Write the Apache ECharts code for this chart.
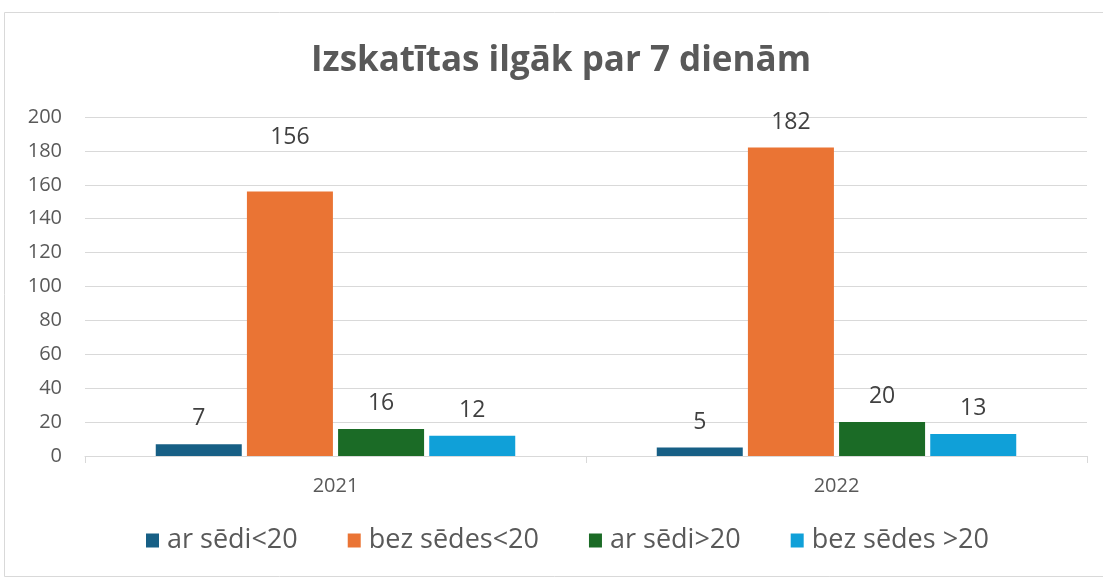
<!DOCTYPE html>
<html>
<head>
<meta charset="utf-8">
<script src="https://cdn.jsdelivr.net/npm/echarts@6/dist/echarts.min.js"></script>
<style>
  html, body { margin: 0; padding: 0; background: #fff; }
  #main { width: 1103px; height: 580px; }
</style>
</head>
<body>
<div id="main"></div>
<script>
// dati no attēla
var years = ["2021", "2022"];
var seriesNames = ["ar sēdi<20", "bez sēdes<20", "ar sēdi>20", "bez sēdes >20"];
var arSediMaz = [7, 5];
var bezSedesMaz = [156, 182];
var arSediLiel = [16, 20];
var bezSedesLiel = [12, 13];
var yTicks = [0, 20, 40, 60, 80, 100, 120, 140, 160, 180, 200];

var colors = ["#175f85", "#ea7434", "#1b6b26", "#10a0d8"];
var font = "'Open Sans', sans-serif";

function makeSeries(name, values, color) {
  return {
    name: name,
    type: "bar",
    data: values,
    barWidth: 86,
    barGap: "6%",
    itemStyle: { color: color },
    label: {
      show: true,
      position: "top",
      distance: 14,
      color: "#404040",
      fontSize: 23,
      fontFamily: font,
    },
  };
}

var series = [
  makeSeries(seriesNames[0], arSediMaz, colors[0]),
  makeSeries(seriesNames[1], bezSedesMaz, colors[1]),
  makeSeries(seriesNames[2], arSediLiel, colors[2]),
  makeSeries(seriesNames[3], bezSedesLiel, colors[3]),
];
// 156 etiķete attēlā pacelta augstāk
series[1].data = bezSedesMaz.map(function (v, i) {
  return i === 0 ? { value: v, label: { offset: [0, -29] } } : v;
});

var myChart = echarts.init(document.getElementById("main"));
myChart.setOption({
  animation: false,
  backgroundColor: "#fff",
  graphic: [
    {
      type: "rect",
      shape: { x: 4.5, y: 12.5, width: 1110, height: 564 },
      style: { fill: "none", stroke: "#d9d9d9", lineWidth: 1 },
      z: -1,
    },
  ],
  title: {
    text: "Izskatītas ilgāk par 7 dienām",
    left: 556,
    textAlign: "center",
    top: 39,
    textStyle: {
      color: "#595959",
      fontSize: 35,
      fontWeight: "bold",
      fontFamily: font,
    },
  },
  legend: {
    data: seriesNames,
    bottom: 21,
    left: 141,
    icon: "rect",
    itemWidth: 13,
    itemHeight: 14,
    itemGap: 50,
    textStyle: {
      color: "#595959",
      fontSize: 27,
      fontFamily: font,
      padding: [0, 0, 0, 3],
    },
  },
  grid: {
    left: 85,
    right: 16,
    top: 117,
    bottom: 124,
  },
  xAxis: {
    type: "category",
    data: years,
    axisLine: { lineStyle: { color: "#d9d9d9", width: 1 } },
    axisTick: { show: true, length: 7, lineStyle: { color: "#d9d9d9" } },
    axisLabel: {
      color: "#595959",
      fontSize: 20,
      fontFamily: font,
      margin: 20,
    },
  },
  yAxis: {
    type: "value",
    min: yTicks[0],
    max: yTicks[yTicks.length - 1],
    interval: yTicks[1] - yTicks[0],
    axisLine: { show: false },
    axisTick: { show: false },
    splitLine: { lineStyle: { color: "#d9d9d9", width: 1 } },
    axisLabel: {
      color: "#595959",
      fontSize: 20,
      fontFamily: font,
      margin: 23,
    },
  },
  series: series,
});
</script>
</body>
</html>
